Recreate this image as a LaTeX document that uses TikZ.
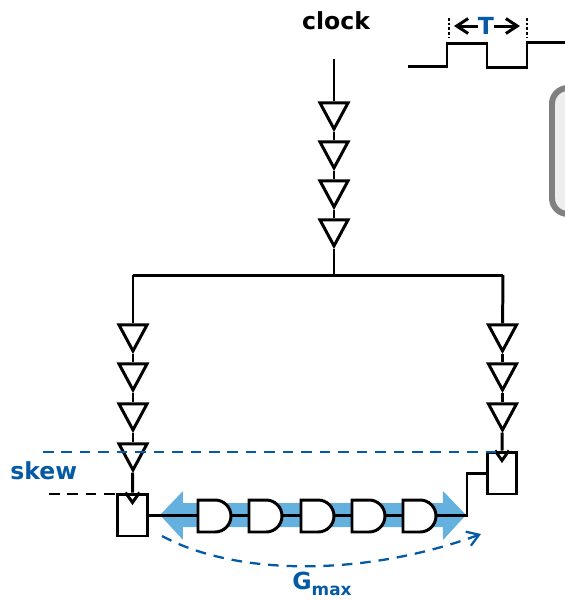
\documentclass[tikz,border=0pt]{standalone}
\usepackage{fontspec}
\setmainfont{DejaVu Sans}
\usepackage{xcolor}
\usetikzlibrary{calc,arrows.meta,positioning,shapes.geometric}
\definecolor{accent}{RGB}{5,90,165}
\definecolor{pathblue}{RGB}{100,176,222}
\definecolor{boxgray}{RGB}{128,128,128}
\definecolor{boxfill}{RGB}{238,238,238}
\newcommand{\andgate}[2]{%
  \node[andg] (#1) at (#2) {};
  \draw[wire,fill=white] (#1.north west) -- ++(17,0) arc[start angle=90,end angle=-90,radius=0.32cm] -- (#1.south west) -- cycle;
}

\begin{document}
\begin{tikzpicture}[x=0.02cm,y=-0.02cm,>=Stealth,font=\bfseries\fontsize{13.4}{16}\selectfont,
     wire/.style={line width=1.7pt},
     buf/.style={draw,line width=1.7pt,isosceles triangle,isosceles triangle apex angle=58,
       isosceles triangle stretches,shape border rotate=-90,minimum width=0.56cm,minimum height=0.52cm,inner sep=0pt,anchor=apex},
     ff/.style={draw,line width=1.7pt,fill=white,minimum width=0.59cm,minimum height=0.84cm,inner sep=0pt},
     andg/.style={minimum width=0.66cm,minimum height=0.64cm,inner sep=0pt,outer sep=0pt},
     skewline/.style={line width=1.3pt,dash pattern=on 6pt off 4.5pt},
     lbl/.style={text=accent,inner sep=0pt},
     tick/.style={line width=1.7pt,dash pattern=on 1.5pt off 1.2pt},
     barb/.style={-{Straight Barb[length=6.5pt,width=8.5pt]}}]
    \clip (0,0) rectangle (565,600);

    % legend box, cut by the page edge
    \node[draw=boxgray,fill=boxfill,line width=3.4pt,rounded corners=9pt,outer sep=0pt,minimum width=1.6cm,minimum height=2.52cm,anchor=north west] (note) at (552,88) {};

    % clock waveform
    \draw[wire] (408,66) -- (447,66) -- (447,43) -- (487,43) -- (487,67) -- (527,67) -- (527,42) -- (565,42);
    \node[lbl] (period) at (486,26) {T};
    \coordinate (tl) at (449,18);
    \coordinate (tl2) at (449,37);
    \coordinate (tr) at (527,18);
    \coordinate (tr2) at (527,37);
    \draw[tick] (tl) -- (tl2);
    \draw[tick] (tr) -- (tr2);
    \draw[wire,barb] (period.west) -- (454,26);
    \draw[wire,barb] (period.east) -- (520,26);

    % clock tree
    \node[inner sep=0pt] (clock) at (336,21) {clock};
    \coordinate (clkin) at (334,59);
    \node[buf] (cb1) at (334,132) {};
    \node[buf] (cb2) at (334,171) {};
    \node[buf] (cb3) at (334,210) {};
    \node[buf] (cb4) at (334,249) {};
    \coordinate (busc) at (334,275);
    \coordinate (busl) at (133,275);
    \coordinate (busr) at (503,275);
    \draw[wire] (clkin)--(cb1);
    \draw[wire] (cb1)--(cb2);
    \draw[wire] (cb2)--(cb3);
    \draw[wire] (cb3)--(cb4);
    \draw[wire] (cb4)--(busc);
    \draw[wire] (busl)--(busr);

    \node[buf] (lb1) at (133,354) {};
    \node[buf] (lb2) at (133,393) {};
    \node[buf] (lb3) at (133,433) {};
    \node[buf] (lb4) at (133,473) {};
    \node[buf] (rb1) at (502.5,354) {};
    \node[buf] (rb2) at (502.5,393) {};
    \node[buf] (rb3) at (502.5,433) {};
    \draw[wire] (busl)--(lb1);
    \draw[wire] (lb1)--(lb2);
    \draw[wire] (lb2)--(lb3);
    \draw[wire] (lb3)--(lb4);
    \draw[wire] (busr)--(rb1);
    \draw[wire] (rb1)--(rb2);
    \draw[wire] (rb2)--(rb3);

    % critical path band
    \fill[pathblue] (160,515) -- (183,491) -- (183,503) -- (443,503) -- (443,491) -- (466,515) -- (443,540) -- (443,527) -- (183,527) -- (183,540) -- cycle;

    % flip-flops and gates
    \node[ff] (ffl) at (132.5,515) {};
    \node[ff] (ffr) at (502,473) {};
    \coordinate (bend) at (467,515);
    \andgate{g1}{214.5,516}
    \andgate{g2}{265.5,516}
    \andgate{g3}{317.5,516}
    \andgate{g4}{368.5,516}
    \andgate{g5}{419.5,516}
    \draw[wire] (ffl.east|-bend)--(g1.west|-bend);
    \draw[wire] (g1.east|-bend)--(g2.west|-bend);
    \draw[wire] (g2.east|-bend)--(g3.west|-bend);
    \draw[wire] (g3.east|-bend)--(g4.west|-bend);
    \draw[wire] (g4.east|-bend)--(g5.west|-bend);
    \draw[wire] (g5.east|-bend)--(bend)--(bend|-ffr.west)--(ffr.west);
    \draw[wire] (lb4)--(ffl.north);
    \draw[wire] (rb3)--(ffr.north);
    \draw[wire] ($(ffl.north)+(-7,0)$)--($(ffl.north)+(0,10)$)--($(ffl.north)+(7,0)$);
    \draw[wire] ($(ffr.north)+(-7,0)$)--($(ffr.north)+(0,10)$)--($(ffr.north)+(7,0)$);

    % skew and gmax
    \coordinate (sk1) at (43,452);
    \coordinate (sk2) at (49,494);
    \coordinate (gm1) at (162,536);
    \coordinate (gm2) at (481,534);
    \draw[skewline,accent] (sk1)--(sk1-|ffr.north);
    \draw[skewline] (sk2)--(sk2-|ffl.west);
    \draw[skewline,accent,barb] (gm1) .. controls (240,578) and (370,575) .. (gm2);
    \node[lbl,anchor=west] (skew) at (10,471) {skew};
    \node[lbl,anchor=west] (gmax) at (292,584) {G\raisebox{-3pt}{\fontsize{9.6}{12}\selectfont max}};
  \end{tikzpicture}
\end{document}
